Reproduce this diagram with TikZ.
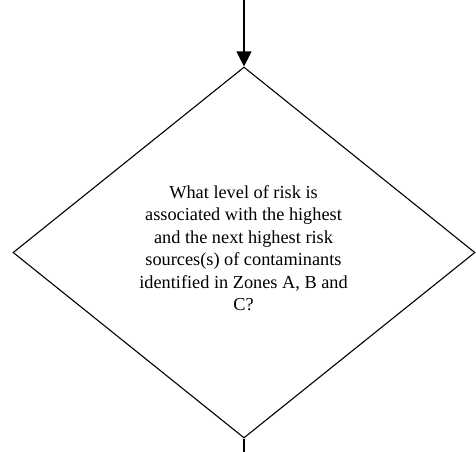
\documentclass[tikz,border=0pt]{standalone}
\usepackage{fontspec}
\setmainfont{Liberation Serif}
\usepackage{tikz}
\usetikzlibrary{positioning}
\usetikzlibrary{shapes,arrows.meta}
\tikzset{decision/.style={diamond,draw,line width=1.1pt,inner sep=0pt,minimum width=462pt,minimum height=371pt},
	question/.style={align=center,inner sep=0pt,font=\fontsize{18.3}{22.5}\selectfont}}

\begin{document}
\begin{tikzpicture}[x=1pt,y=-1pt]
		\useasboundingbox (0,0) rectangle (476,451);
		\node[decision] (Q) at (244,252.5) {};
		\node[question] (T) at (243.5,248) {What level of risk is\\associated with the highest\\and the next highest risk\\sources(s) of contaminants\\identified in Zones A, B and\\C?};
		\coordinate[above=67pt of Q.north] (start);
		\coordinate[below=14pt of Q.south] (end);
		\draw[line width=1.1pt,-{Triangle[length=15pt,width=15pt]}] (start) -- (Q.north);
		\draw[line width=1.1pt] (Q.south) -- (end);
	\end{tikzpicture}
\end{document}
